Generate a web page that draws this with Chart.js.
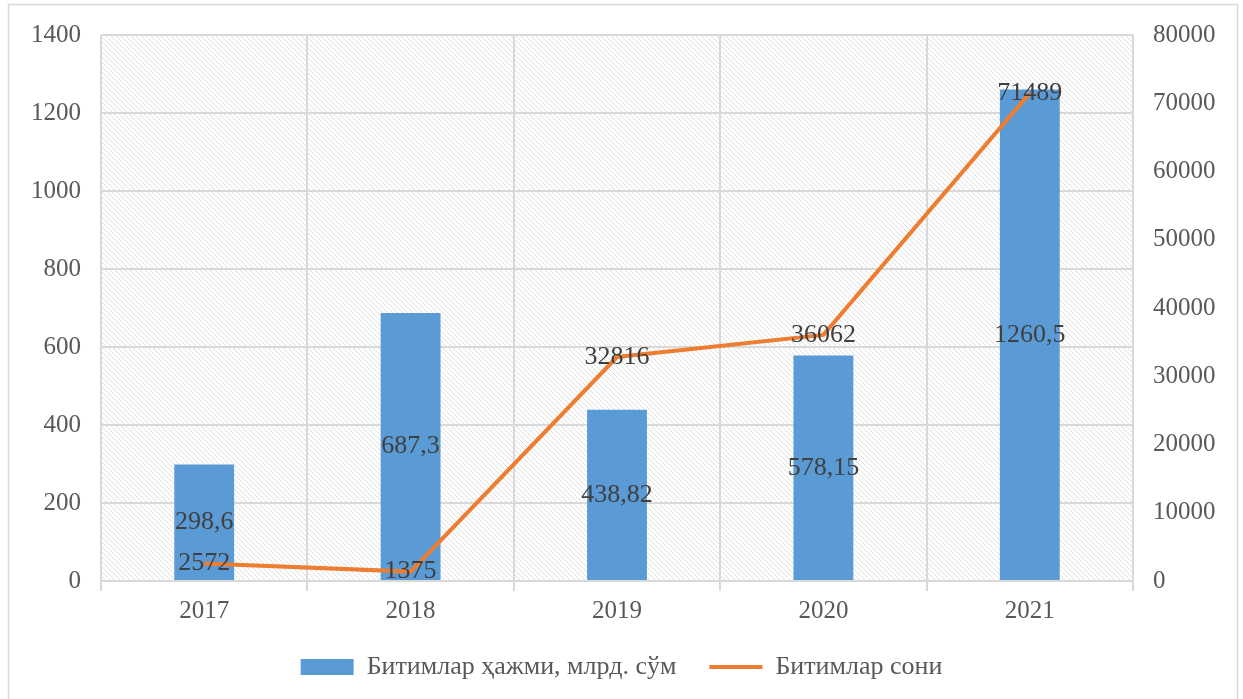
<!DOCTYPE html>
<html>
<head>
<meta charset="utf-8">
<script src="https://cdn.jsdelivr.net/npm/chart.js@4.4.0/dist/chart.umd.min.js"></script>
<style>
  html, body { margin: 0; padding: 0; background: #fff; }
  #box { width: 1243px; height: 699px; position: relative; }
</style>
</head>
<body>
<div id="box"><canvas id="chart"></canvas></div>
<script>
const years = ['2017', '2018', '2019', '2020', '2021'];
const volume = [298.6, 687.3, 438.82, 578.15, 1260.5];
const deals = [2572, 1375, 32816, 36062, 71489];
const volumeLabels = ['298,6', '687,3', '438,82', '578,15', '1260,5'];
const dealLabels = ['2572', '1375', '32816', '36062', '71489'];

const serif = "'Liberation Serif', 'Times New Roman', serif";
const grey = '#d9d9d9';

// diagonal hatching behind the plot area
function hatch(ctx) {
  let c = document.createElement('canvas');
  c.width = 5; c.height = 5;
  let p = c.getContext('2d');
  p.strokeStyle = '#dedede';
  p.lineWidth = 1;
  p.beginPath();
  p.moveTo(-1, -1); p.lineTo(6, 6);
  p.moveTo(-1, 4); p.lineTo(1, 6);
  p.moveTo(4, -1); p.lineTo(6, 1);
  p.stroke();
  return ctx.createPattern(c, 'repeat');
}

const background = {
  id: 'background',
  beforeDraw(chart) {
    let {ctx, chartArea: a} = chart;
    ctx.save();
    ctx.fillStyle = hatch(ctx);
    ctx.fillRect(a.left, a.top, a.right - a.left, a.bottom - a.top);
    ctx.restore();
  },
  afterDraw(chart) {
    let ctx = chart.ctx;
    ctx.save();
    ctx.strokeStyle = grey;
    ctx.lineWidth = 1.5;
    ctx.strokeRect(8.5, 4.5, 1229, 700);
    ctx.restore();
  }
};

// value labels: bars in the middle of the bar, line on the point
const valueLabels = {
  id: 'valueLabels',
  afterDatasetsDraw(chart) {
    let ctx = chart.ctx;
    ctx.save();
    ctx.font = '26px ' + serif;
    ctx.fillStyle = '#404040';
    ctx.textAlign = 'center';
    ctx.textBaseline = 'middle';
    chart.getDatasetMeta(0).data.forEach((bar, i) => {
      ctx.fillText(volumeLabels[i], bar.x, (bar.y + bar.base) / 2);
    });
    chart.getDatasetMeta(1).data.forEach((pt, i) => {
      ctx.fillText(dealLabels[i], pt.x, pt.y);
    });
    ctx.restore();
  }
};

const tickFont = { family: serif, size: 25 };

let ctx = document.getElementById('chart').getContext('2d');
let chart = new Chart(ctx, {
  type: 'bar',
  data: {
    labels: years,
    datasets: [
      {
        label: 'Битимлар ҳажми, млрд. сўм',
        data: volume,
        backgroundColor: '#5b9bd5',
        borderWidth: 0,
        yAxisID: 'y',
        barPercentage: 0.58,
        categoryPercentage: 0.5,
        pointStyle: 'rect',
        order: 2
      },
      {
        type: 'line',
        label: 'Битимлар сони',
        data: deals,
        borderColor: '#ed7d31',
        backgroundColor: '#ed7d31',
        borderWidth: 4,
        pointRadius: 0,
        tension: 0,
        yAxisID: 'y1',
        pointStyle: 'line',
        order: 1
      }
    ]
  },
  options: {
    responsive: true,
    maintainAspectRatio: false,
    animation: false,
    layout: { padding: { top: 35, left: 10, right: 10, bottom: 9 } },
    plugins: {
      tooltip: { enabled: false },
      legend: {
        position: 'bottom',
        labels: {
          usePointStyle: true,
          pointStyleWidth: 53,
          boxHeight: 16,
          padding: 33,
          color: '#595959',
          font: { family: serif, size: 26 },
          sort: (a, b) => a.datasetIndex - b.datasetIndex
        }
      }
    },
    scales: {
      x: {
        grid: { color: grey, lineWidth: 2, offset: true, tickLength: 10, tickColor: grey },
        border: { color: grey, width: 2 },
        ticks: { color: '#595959', font: tickFont, padding: 5 },
        afterFit(s) { s.height = 40; }
      },
      y: {
        position: 'left',
        min: 0, max: 1400,
        ticks: { stepSize: 200, color: '#595959', font: tickFont, padding: 20, callback: v => String(v) },
        grid: { color: grey, lineWidth: 2, drawTicks: false },
        border: { display: false },
        afterFit(s) { s.width = 91; }
      },
      y1: {
        position: 'right',
        min: 0, max: 80000,
        ticks: { stepSize: 10000, color: '#595959', font: tickFont, padding: 12, callback: v => String(v) },
        grid: { display: false },
        border: { display: false },
        afterFit(s) { s.width = 100; }
      }
    }
  },
  plugins: [background, valueLabels]
});
</script>
</body>
</html>
